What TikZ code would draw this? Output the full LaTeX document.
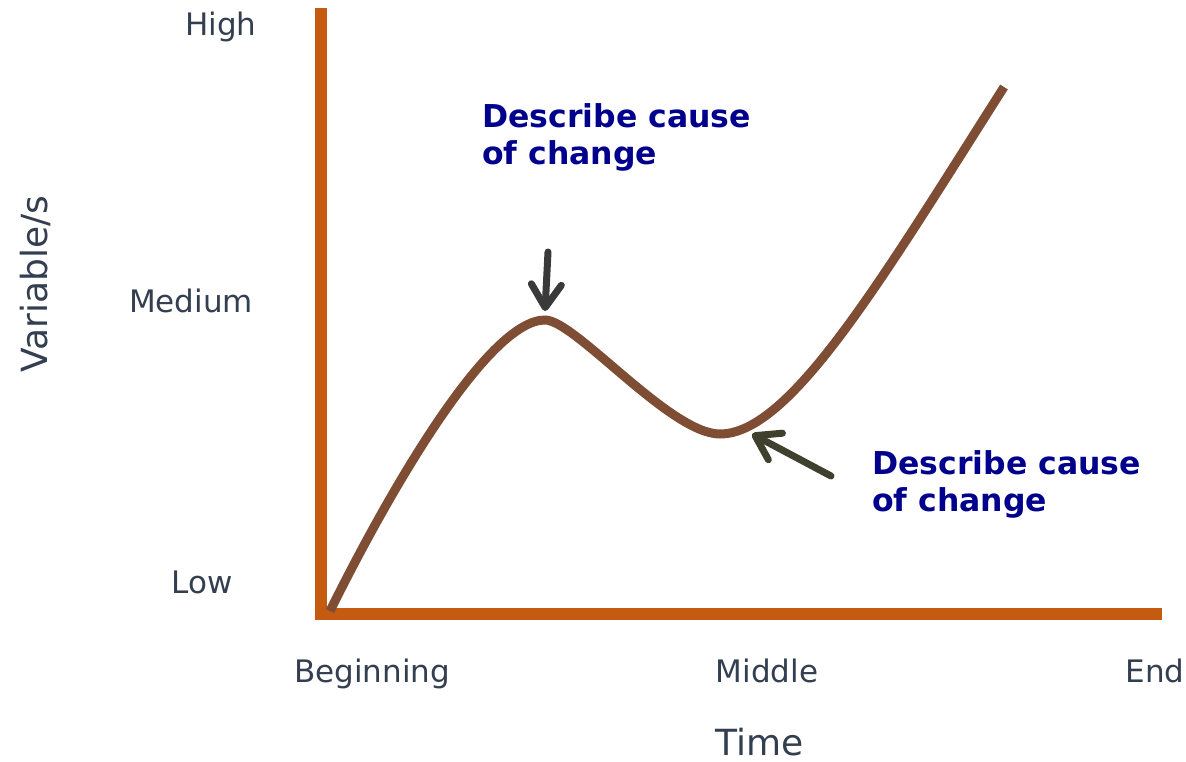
\documentclass[tikz,border=0pt]{standalone}
\usepackage{fontspec}
\setmainfont{DejaVu Sans}
\usetikzlibrary{arrows.meta}
\definecolor{txt}{RGB}{51,63,80}
\definecolor{lbl}{RGB}{0,0,140}
\definecolor{axis}{RGB}{197,90,17}
\definecolor{curve}{RGB}{126,77,51}
\definecolor{arrA}{RGB}{58,58,58}
\definecolor{arrB}{RGB}{64,64,46}
\tikzset{
  ticktext/.style={text=txt,font=\fontsize{31}{37}\selectfont,inner sep=0pt},
  titletext/.style={text=txt,font=\fontsize{36}{43}\selectfont,inner sep=0pt},
  causetext/.style={text=lbl,font=\bfseries\fontsize{31.5}{37}\selectfont,inner sep=0pt,align=left},
  axisline/.style={draw=axis,line width=12pt,line join=miter,line cap=butt},
  trend/.style={draw=curve,line width=9pt,line cap=butt},
  pointer/.style={line width=7pt,line cap=round,-{Straight Barb[length=23pt,width=30pt,line cap=round,line join=round]}},
}
\begin{document}
\begin{tikzpicture}[x=1pt,y=-1pt]
\useasboundingbox (0,0) rectangle (1186,762);
% axes
\coordinate (ytop) at (321,8);
\coordinate (orig) at (321,614);
\coordinate (xend) at (1162,614);
\draw[axisline] (ytop) -- (orig) -- (xend);
% curve
\coordinate (c0) at (330,611);
\coordinate (peak) at (545,320);
\coordinate (trough) at (720,434);
\coordinate (cend) at (1004,87);
\draw[trend] (c0) .. controls (395,480) and (490,320) .. (peak)
  .. controls (575,320) and (670,434) .. (trough)
  .. controls (790,434) and (880,282) .. (cend);
% labels
\node[ticktext,anchor=base] (high) at (221,36) {High};
\node[ticktext,anchor=base] (medium) at (191,312) {Medium};
\node[ticktext,anchor=base] (low) at (202,593) {Low};
\node[ticktext,anchor=base] (beg) at (372,682) {Beginning};
\node[ticktext,anchor=base] (mid) at (767,682) {Middle};
\node[ticktext,anchor=base] (end) at (1155,682) {End};
\node[titletext,anchor=base] (time) at (760,755) {Time};
\node[titletext,anchor=base,rotate=90] (var) at (47,284) {Variable/s};
\node[causetext,anchor=base west] (c1) at (482,165) {Describe cause\\of change};
\node[causetext,anchor=base west] (c2) at (872,511) {Describe cause\\of change};
% arrows
\coordinate (a1s) at (548,252);
\coordinate (a1e) at (545,311);
\coordinate (a2s) at (831,476);
\coordinate (a2e) at (752,434);
\draw[pointer,draw=arrA] (a1s) -- (a1e);
\draw[pointer,draw=arrB] (a2s) -- (a2e);
\end{tikzpicture}
\end{document}
